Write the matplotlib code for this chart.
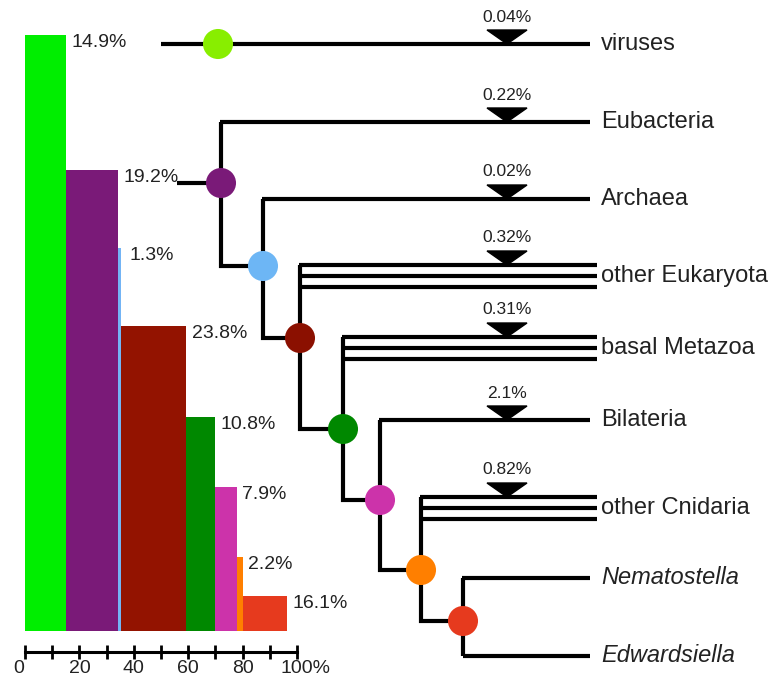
import numpy as np
import matplotlib
matplotlib.use('Agg')
import matplotlib.pyplot as plt
import matplotlib.transforms as mtrans
from matplotlib.patches import Polygon

plt.rcParams['font.family'] = ['Liberation Sans', 'DejaVu Sans']

# share of genes assigned to each node of the tree
node_pct = [14.9, 19.2, 1.3, 23.8, 10.8, 7.9, 2.2, 16.1]
bar_colors = ['#00ee00', '#7a1a78', '#73b4f5', '#931300', '#008800', '#cc33aa', '#ff7f00', '#e63a1e']
node_colors = ['#88ee00', '#7a1a78', '#6db6f5', '#8b1000', '#008800', '#cc33aa', '#ff7f00', '#e63a1e']

# leaves and the share gained on each terminal branch
leaf_names = ['viruses', 'Eubacteria', 'Archaea', 'other Eukaryota', 'basal Metazoa',
              'Bilateria', 'other Cnidaria', 'Nematostella', 'Edwardsiella']
leaf_gain = ['0.04%', '0.22%', '0.02%', '0.32%', '0.31%', '2.1%', '0.82%', None, None]
leaf_group = [False, False, False, True, True, False, True, False, False]
leaf_italic = [False] * 7 + [True, True]

# layout (y grows downward, same units in both panels)
leaf_y = [44, 122, 199, 265, 337, 420, 497, 578, 656]
node_x = [218, 221, 263, 300, 343, 380, 421, 463]
node_y = [44, 183, 266, 338, 429, 500, 570, 621]
bar_top = [35, 170, 248, 326, 417, 487, 557, 596]
bar_base = 631
leaf_end = 590
gap = 11
tri_x = 507

W, H = 773, 677
fig = plt.figure(figsize=(W / 100, H / 100), dpi=100)

# tree panel
ax = fig.add_axes([0, 0, 1, 1])
ax.set_xlim(0, W)
ax.set_ylim(H, 0)
ax.axis('off')
lw = 3
kw = dict(color='black', lw=lw, solid_capstyle='butt', solid_joinstyle='miter', zorder=2)

# root stubs
ax.plot([161, leaf_end], [leaf_y[0], leaf_y[0]], **kw)
ax.plot([177, node_x[1]], [node_y[1], node_y[1]], **kw)

for i in range(1, len(node_x)):
    x = node_x[i]
    top = leaf_y[i]
    if i < len(node_x) - 1:
        bot = node_y[i + 1]
        ax.plot([x, x, node_x[i + 1]], [top, bot, bot], **kw)
    else:
        bot = leaf_y[i + 1]
        ax.plot([x, x], [top, bot], **kw)
        ax.plot([x, leaf_end], [bot, bot], **kw)
    if leaf_group[i]:
        for k in range(3):
            ax.plot([x - lw / 2, leaf_end + 7], [top + k * gap, top + k * gap], **kw)
    else:
        ax.plot([x - lw / 2, leaf_end], [top, top], **kw)

ax.scatter(node_x, node_y, s=30 ** 2 * 0.52, c=node_colors, zorder=3, linewidths=0)

for i, name in enumerate(leaf_names):
    y = leaf_y[i] + (gap if leaf_group[i] else 0)
    ax.text(601, y, name, fontsize=17, va='center', ha='left', color='#222222',
            style='italic' if leaf_italic[i] else 'normal')
    if leaf_gain[i]:
        ly = leaf_y[i]
        ax.add_patch(Polygon([[tri_x - 20, ly - 14], [tri_x + 20, ly - 14], [tri_x, ly]],
                             closed=True, color='black', zorder=2))
        ax.text(tri_x, ly - 27, leaf_gain[i], fontsize=12.5, ha='center', va='center',
                color='#222222')

# bar panel
axb = fig.add_axes([25 / W, 0, (297 - 25) / W, 1])
axb.set_xlim(0, 100)
axb.set_ylim(H, 0)
axb.patch.set_alpha(0)
left = np.concatenate([[0], np.cumsum(node_pct)[:-1]])
heights = [bar_base - t for t in bar_top]
axb.bar(left, heights, width=node_pct, bottom=bar_top, align='edge',
        color=bar_colors, linewidth=0, zorder=2)
for l, w, t in zip(left, node_pct, bar_top):
    axb.annotate('%.1f%%' % w, (l + w, t), xytext=(4 if w > 2 else 6, 1),
                 textcoords='offset points', fontsize=14, ha='left', va='top',
                 color='#222222')

for s in ['left', 'right', 'top']:
    axb.spines[s].set_visible(False)
axb.spines['bottom'].set_position(('data', 652))
axb.spines['bottom'].set_linewidth(2.2)
axb.set_yticks([])
axb.set_xticks(np.arange(0, 101, 20))
axb.set_xticks(np.arange(0, 101, 10), minor=True)
axb.set_xticklabels(['0', '20', '40', '60', '80', '100%'])
axb.tick_params(axis='x', which='both', direction='inout', length=10, width=2,
                labelsize=14, pad=0.5, colors='black', labelcolor='#222222')
lab = axb.get_xticklabels()
lab[-1].set_transform(lab[-1].get_transform() + mtrans.ScaledTranslation(9 / 100, 0, fig.dpi_scale_trans))
lab[0].set_transform(lab[0].get_transform() + mtrans.ScaledTranslation(-6 / 100, 0, fig.dpi_scale_trans))

fig.savefig('out.png', dpi=100)
